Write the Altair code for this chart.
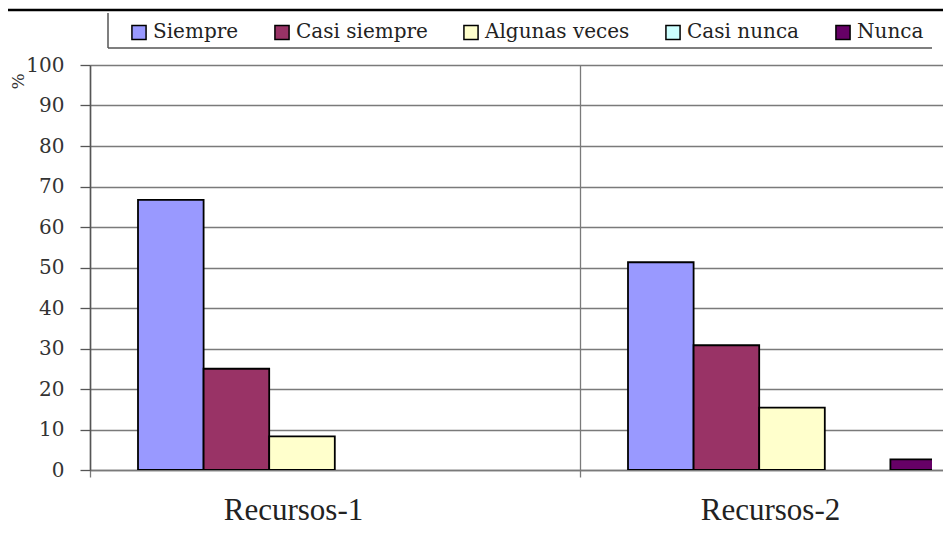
import altair as alt
import pandas as pd

grupos = ["Recursos-1", "Recursos-2"]
series = ["Siempre", "Casi siempre", "Algunas veces", "Casi nunca", "Nunca"]
recursos_1 = [66.7, 25.0, 8.3, 0.0, 0.0]
recursos_2 = [51.3, 30.8, 15.4, 0.0, 2.6]
colores = ["#9999FF", "#993366", "#FFFFCC", "#CCFFFF", "#660066"]
y_ticks = list(range(0, 101, 10))

rows = []
for g, vals in zip(grupos, [recursos_1, recursos_2]):
    for s, v in zip(series, vals):
        rows.append({"grupo": g, "serie": s, "valor": v})
df = pd.DataFrame(rows)
dummy = pd.DataFrame({"k": [0]})

grid_col = "#7a7a7a"

bars = (
    alt.Chart(df)
    .transform_filter("datum.valor > 0")
    .mark_bar(stroke="black", strokeWidth=1.8, clip=True)
    .encode(
        x=alt.X(
            "grupo:N",
            sort=grupos,
            scale=alt.Scale(domain=grupos, range=[0, 980], paddingInner=0, paddingOuter=0),
            axis=alt.Axis(
                title=None,
                grid=True,
                tickBand="extent",
                gridColor=grid_col,
                gridWidth=1.3,
                domainColor=grid_col,
                domainWidth=1.3,
                tickColor=grid_col,
                tickWidth=1.3,
                tickSize=7,
                labelAngle=0,
                labelFont="Liberation Serif",
                labelFontSize=31,
                labelColor="#222222",
                labelPadding=18,
                labelOffset={
                    "condition": {"test": "datum.value == 'Recursos-1'", "value": -42},
                    "value": -55,
                },
            ),
        ),
        xOffset=alt.XOffset(
            "serie:N",
            sort=series,
            scale=alt.Scale(domain=series, range=[48, 376], paddingInner=0, paddingOuter=0),
        ),
        y=alt.Y(
            "valor:Q",
            scale=alt.Scale(domain=[0, 100], nice=False),
            axis=alt.Axis(
                title="%",
                values=y_ticks,
                grid=True,
                gridColor=grid_col,
                gridWidth=1.3,
                domainColor="#555555",
                domainWidth=1.5,
                tickColor="#555555",
                tickWidth=1.3,
                tickSize=10,
                labelFont="DejaVu Serif",
                labelFontSize=20,
                labelColor="#333333",
                labelPadding=16,
                titleFont="DejaVu Serif",
                titleFontSize=17,
                titleFontWeight="normal",
                titleColor="#333333",
                titleAngle=270,
                titleX=-72,
                titleY=16,
                titleAlign="center",
                titleBaseline="middle",
            ),
        ),
        color=alt.Color(
            "serie:N",
            sort=series,
            scale=alt.Scale(domain=series, range=colores),
            legend=alt.Legend(
                orient="none",
                legendX=39,
                legendY=-43,
                direction="horizontal",
                columns=5,
                title=None,
                symbolType="square",
                symbolSize=200,
                symbolStrokeColor="black",
                symbolStrokeWidth=1.5,
                labelFont="DejaVu Serif",
                labelFontSize=20,
                labelColor="#222222",
                labelOffset=4,
                columnPadding=32,
            ),
        ),
    )
)

top_line = alt.Chart(dummy).mark_rule(color="black", strokeWidth=2.5).encode(
    x=alt.value(-83), x2=alt.value(870), y=alt.value(-55)
)
legend_left = alt.Chart(dummy).mark_rule(color="#555555", strokeWidth=1.5).encode(
    x=alt.value(18), y=alt.value(-52), y2=alt.value(-17)
)
legend_bottom = alt.Chart(dummy).mark_rule(color="#555555", strokeWidth=1.5).encode(
    x=alt.value(18), x2=alt.value(842), y=alt.value(-17)
)

chart = (
    alt.layer(top_line, legend_left, legend_bottom, bars)
    .properties(
        width=842,
        height=405,
        autosize=alt.AutoSizeParams(type="none"),
        padding={"left": 82, "top": 57, "right": 11, "bottom": 60},
    )
    .configure_view(stroke=None)
)

chart.save("out.html", embed_options={"renderer": "svg", "actions": False})
